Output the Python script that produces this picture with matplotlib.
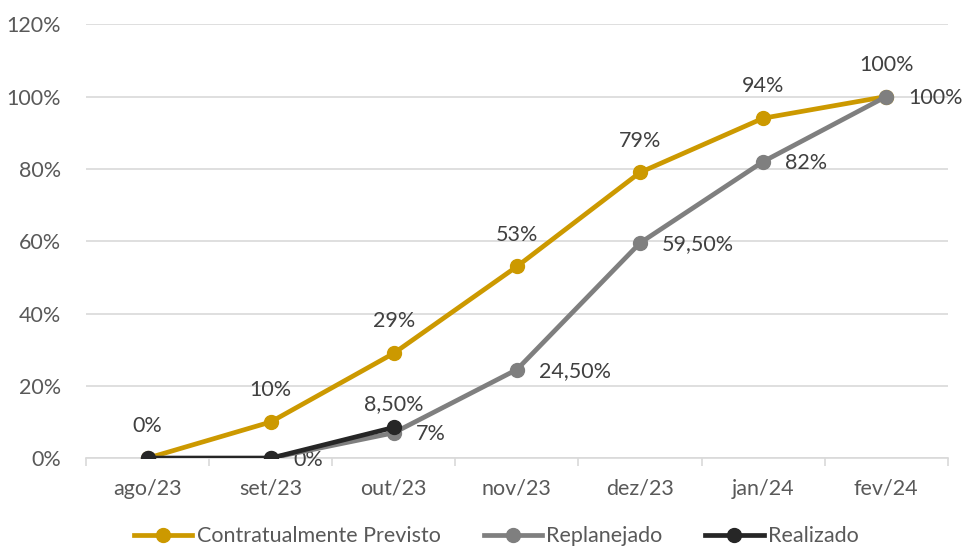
import numpy as np
import matplotlib
matplotlib.use("Agg")
import matplotlib.pyplot as plt

# Data
meses = ["ago/23", "set/23", "out/23", "nov/23", "dez/23", "jan/24", "fev/24"]
previsto = [0, 10, 29, 53, 79, 94, 100]
replanejado = [0, 0, 7, 24.5, 59.5, 82, 100]
realizado = [0, 0, 8.5]

rot_previsto = ["0%", "10%", "29%", "53%", "79%", "94%", "100%"]
rot_replanejado = [None, "0%", "7%", "24,50%", "59,50%", "82%", "100%"]
rot_realizado = [None, None, "8,50%"]

plt.rcParams['font.family'] = ['Lato', 'DejaVu Sans']

fig = plt.figure(figsize=(9.64, 5.5), dpi=100)
ax = fig.add_axes([0.0892, 0.167, 0.894, 0.789])

x = np.arange(len(meses))
ouro = "#CC9900"
cinza = "#7F7F7F"
preto = "#262626"

ax.plot(x, previsto, color=ouro, lw=3.4, marker="o", ms=10, label="Contratualmente Previsto", zorder=3)
ax.plot(x, replanejado, color=cinza, lw=3.4, marker="o", ms=10, label="Replanejado", zorder=4)
ax.plot(x[:len(realizado)], realizado, color=preto, lw=3.4, marker="o", ms=10, label="Realizado", zorder=5)

cor_txt = "#404040"
fs = 15.5
for xi, v, t in zip(x, previsto, rot_previsto):
    ax.annotate(t, (xi, v), xytext=(0, 23), textcoords="offset points",
                ha="center", va="center", fontsize=fs, color=cor_txt)
for xi, v, t in zip(x, replanejado, rot_replanejado):
    if t:
        ax.annotate(t, (xi, v), xytext=(16, -1), textcoords="offset points",
                    ha="left", va="center", fontsize=fs, color=cor_txt)
for xi, v, t in zip(x, realizado, rot_realizado):
    if t:
        ax.annotate(t, (xi, v), xytext=(0, 17), textcoords="offset points",
                    ha="center", va="center", fontsize=fs, color=cor_txt)

ax.set_xlim(-0.5, len(meses) - 0.5)
ax.set_ylim(0, 120)
ax.set_yticks(np.arange(0, 121, 20))
ax.set_yticklabels([f"{v}%" for v in range(0, 121, 20)])
ax.set_xticks(x)
ax.set_xticklabels(meses)
ax.set_xticks(np.arange(-0.5, len(meses), 1), minor=True)
ax.tick_params(axis="x", which="major", length=0, pad=15, labelsize=fs, labelcolor="#595959")
ax.tick_params(axis="x", which="minor", length=6, color="#D9D9D9", width=1.2)
ax.tick_params(axis="y", length=0, pad=18, labelsize=fs, labelcolor="#595959")

ax.grid(axis="y", color="#D9D9D9", lw=1.2)
ax.set_axisbelow(True)
for s in ["top", "right", "left"]:
    ax.spines[s].set_visible(False)
ax.spines["bottom"].set_color("#D9D9D9")
ax.spines["bottom"].set_linewidth(1.2)

fig.legend(loc="center", bbox_to_anchor=(0.515, 0.025), ncol=3, frameon=False,
           fontsize=fs, labelcolor="#595959", handlelength=2.7, columnspacing=2.0,
           handletextpad=0.2)

fig.savefig("out.png", dpi=100)
